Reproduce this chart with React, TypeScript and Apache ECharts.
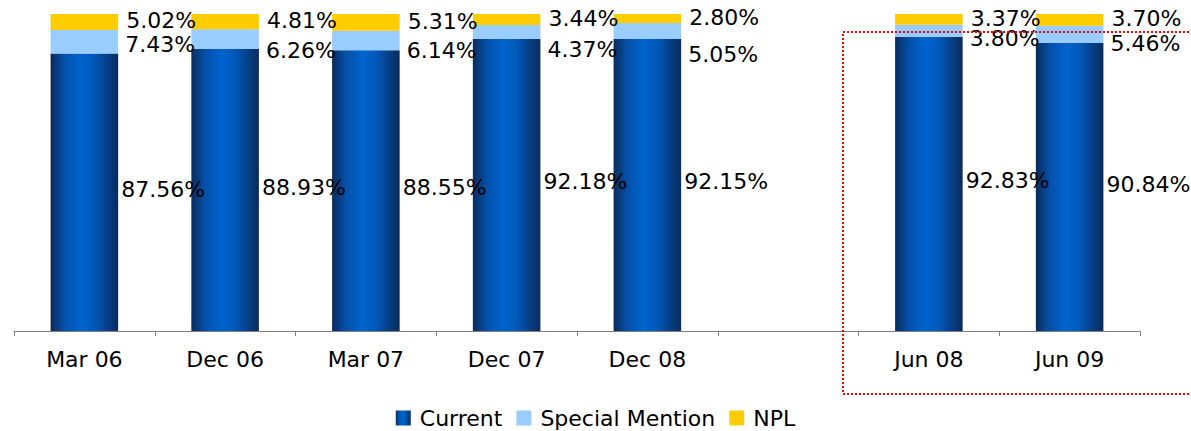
import React, { useEffect, useRef } from "react";
import * as echarts from "echarts";

const categories = ["Mar 06", "Dec 06", "Mar 07", "Dec 07", "Dec 08", "", "Jun 08", "Jun 09"];
const currentValues: (number | null)[] = [87.56, 88.93, 88.55, 92.18, 92.15, null, 92.83, 90.84];
const specialMentionValues: (number | null)[] = [7.43, 6.26, 6.14, 4.37, 5.05, null, 3.8, 5.46];
const nplValues: (number | null)[] = [5.02, 4.81, 5.31, 3.44, 2.8, null, 3.37, 3.7];
const seriesNames = ["Current", "Special Mention", "NPL"];

// vertical nudges (px) for the Special Mention labels, as placed in the reference
const smLabelNudge = [3, 11, 10, 18, 24, 0, 8, 9];

const FONT = "DejaVu Sans";

export default function App() {
  const ref = useRef<HTMLDivElement>(null);

  useEffect(() => {
    if (!ref.current) return;
    const chart = echarts.init(ref.current, null, { renderer: "svg" });

    const blueGradient = {
      type: "linear",
      x: 0,
      y: 0,
      x2: 1,
      y2: 0,
      colorStops: [
        { offset: 0, color: "#0a2b5c" },
        { offset: 0.2, color: "#0450a8" },
        { offset: 0.45, color: "#0064cf" },
        { offset: 0.65, color: "#0058b8" },
        { offset: 1, color: "#0a2b5c" },
      ],
    };

    const fmt = (p: any) => (p.value == null ? "" : Number(p.value).toFixed(2) + "%");

    const labelBase = {
      show: true,
      position: "right" as const,
      color: "#000",
      fontSize: 22,
      fontFamily: FONT,
      formatter: fmt,
    };

    const option: any = {
      animation: false,
      grid: { left: 14, right: 51, top: 14, bottom: 100, containLabel: false },
      legend: {
        data: seriesNames,
        left: "center",
        top: 402,
        icon: "rect",
        itemWidth: 15,
        itemHeight: 15,
        itemGap: 14,
        textStyle: { fontSize: 22, fontFamily: FONT, color: "#000", padding: [0, 0, 0, 4] },
      },
      xAxis: {
        type: "category",
        data: categories,
        axisLine: { show: true, lineStyle: { color: "#808080", width: 1 } },
        axisTick: { show: true, length: 5, lineStyle: { color: "#808080" } },
        axisLabel: { margin: 17, fontSize: 22, fontFamily: FONT, color: "#000", interval: 0 },
      },
      yAxis: { type: "value", min: 0, max: 100, show: false, splitLine: { show: false } },
      series: [
        {
          name: seriesNames[0],
          type: "bar",
          stack: "total",
          barWidth: "48%",
          itemStyle: { color: blueGradient },
          label: { ...labelBase, distance: 3, offset: [0, -3] },
          data: currentValues.map((v) => (v == null ? "-" : v)),
        },
        {
          name: seriesNames[1],
          type: "bar",
          stack: "total",
          barWidth: "48%",
          itemStyle: { color: "#99ccff" },
          label: { ...labelBase, distance: 7 },
          data: specialMentionValues.map((v, i) =>
            v == null ? "-" : { value: v, label: { offset: [0, smLabelNudge[i]] } }
          ),
        },
        {
          name: seriesNames[2],
          type: "bar",
          stack: "total",
          barWidth: "48%",
          itemStyle: { color: "#ffcc00" },
          label: { ...labelBase, distance: 8, offset: [0, -1] },
          data: nplValues.map((v) => (v == null ? "-" : v)),
        },
      ],
      graphic: [
        {
          type: "rect",
          shape: { x: 843, y: 32, width: 400, height: 362 },
          style: { fill: "none", stroke: "#ff0000", lineWidth: 2, lineDash: [2, 2] },
          silent: true,
          z: 100,
        },
      ],
    };

    chart.setOption(option);
    return () => chart.dispose();
  }, []);

  return (
    <div
      ref={ref}
      style={{ position: "fixed", left: 0, top: 0, width: 1191, height: 431, background: "#fff" }}
    />
  );
}
